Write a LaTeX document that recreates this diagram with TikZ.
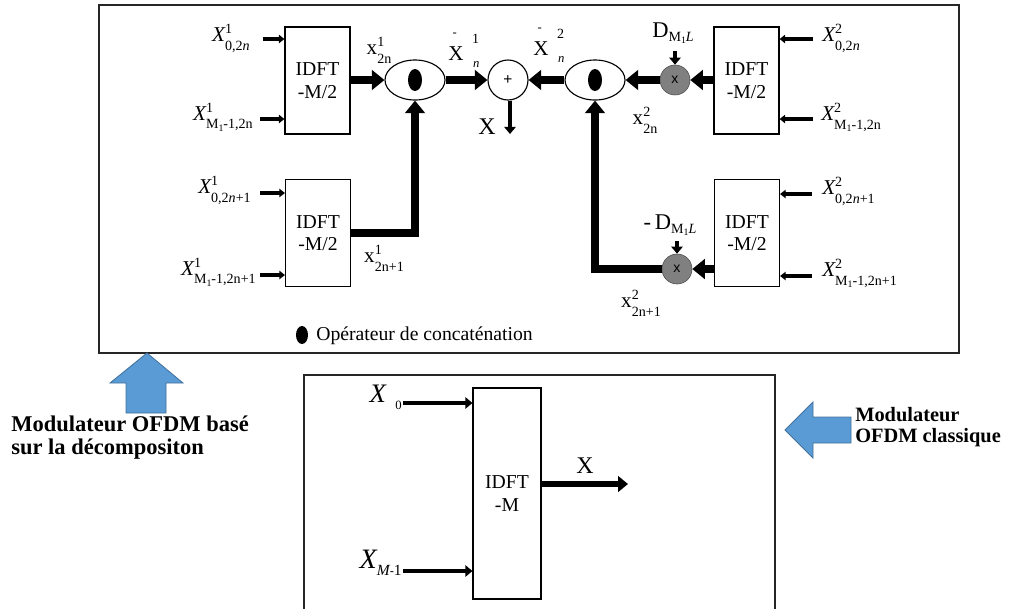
\documentclass[tikz,border=0pt]{standalone}
\usepackage{fontspec}
\setmainfont{Liberation Serif}
\newfontfamily\sansf{Liberation Sans}
\usetikzlibrary{arrows.meta,shapes.geometric}
\newcommand\SupSub[2]{\rlap{\raisebox{0.9ex}{\fontsize{10}{10}\selectfont #1}}\raisebox{-0.85ex}{\fontsize{10}{10}\selectfont #2}}
\newcommand\Mone{M\raisebox{-0.35ex}{\fontsize{7}{7}\selectfont 1}}
\newcommand\XbarLab[1]{\rlap{\raisebox{1.15em}{\hspace{0.2em}\fontsize{9}{9}\selectfont -}}X\rlap{\raisebox{0.8em}{\hspace{0.4em}\fontsize{10}{10}\selectfont #1}}\raisebox{-0.3em}{\hspace{0.45em}\fontsize{9}{9}\selectfont\itshape n}}
\newcommand\DLab{D\raisebox{-0.45ex}{\fontsize{10}{10}\selectfont M\raisebox{-0.3ex}{\fontsize{7}{7}\selectfont 1}\itshape L}}
\definecolor{blu}{HTML}{5B9BD5}
\definecolor{bluedge}{HTML}{41719C}
\begin{document}
\begin{tikzpicture}[x=0.025cm,y=-0.025cm,
  box/.style={draw,line width=0.8pt,minimum width=1.625cm,minimum height=2.675cm,align=center,font=\fontsize{14}{16}\selectfont,inner sep=0pt},
  thickarrow/.style={line width=5.5pt,-{Triangle[length=9pt,width=14pt]},line join=miter},
  thinarrow/.style={line width=2.2pt,-{Triangle[length=4pt,width=6pt]}},
  smallarrow/.style={line width=3pt,-{Triangle[length=5pt,width=8pt]}},
  lab/.style={font=\fontsize{15}{17}\selectfont,inner sep=0pt},
  conc/.style={draw,ellipse,line width=0.8pt,minimum width=1.5cm,minimum height=1cm,inner sep=0pt},
  dot/.style={fill=black,ellipse,minimum width=0.35cm,minimum height=0.55cm,inner sep=0pt},
  mult/.style={circle,draw=black!70,fill=black!50,minimum size=0.75cm,inner sep=0pt,font=\sansf\fontsize{10}{10}\selectfont},
  bold/.style={font=\bfseries\fontsize{16}{16}\selectfont,align=left,inner sep=0pt}
]
\useasboundingbox (0,0) rectangle (1029,608);
% outer boxes
\draw[line width=1pt,black!85] (99,5) rectangle (959,353);
\draw[line width=1pt,black!85] (304,610) -- (304,375) -- (775,375) -- (775,610);

% IDFT blocks
\node[box] (b1) at (317.5,80.5) {IDFT\\-M/2};
\node[box] (b2) at (318,233) {IDFT\\-M/2};
\node[box] (b3) at (746.5,80.5) {IDFT\\-M/2};
\node[box] (b4) at (747,233) {IDFT\\-M/2};

% concatenation operators
\node[conc] (e1) at (415,80) {};
\node[dot] at (e1.center) {};
\node[conc] (e2) at (595,80) {};
\node[dot] at (e2.center) {};
\node[circle,draw,line width=0.8pt,minimum size=1cm,inner sep=0pt,font=\sansf\fontsize{11}{11}\selectfont] (plus) at (508,80) {+};

% multipliers
\node[mult] (g1) at (675,80) {x};
\node[mult] (g2) at (677,269) {x};

% left inputs
\coordinate (i1a) at (263,39);
\coordinate (i1b) at (260,119);
\coordinate (i2a) at (260,193);
\coordinate (i2b) at (260,275);
\draw[thinarrow] (i1a) -- (i1a -| b1.west);
\draw[thinarrow] (i1b) -- (i1b -| b1.west);
\draw[thinarrow] (i2a) -- (i2a -| b2.west);
\draw[thinarrow] (i2b) -- (i2b -| b2.west);
\node[lab,anchor=east] (l1a) at (250,38) {\itshape X\SupSub{\upshape 1}{\upshape 0,2\itshape n}};
\node[lab,anchor=east] (l1b) at (253,117) {\itshape X\SupSub{\upshape 1}{\upshape\Mone-1,2n}};
\node[lab,anchor=east] (l2a) at (251,190) {\itshape X\SupSub{\upshape 1}{\upshape 0,2\itshape n\upshape+1}};
\node[lab,anchor=east] (l2b) at (256,272) {\itshape X\SupSub{\upshape 1}{\upshape\Mone-1,2n+1}};

% right inputs
\coordinate (i3a) at (813,39);
\coordinate (i3b) at (813,119);
\coordinate (i4a) at (812,194);
\coordinate (i4b) at (812,276);
\draw[thinarrow] (i3a) -- (i3a -| b3.east);
\draw[thinarrow] (i3b) -- (i3b -| b3.east);
\draw[thinarrow] (i4a) -- (i4a -| b4.east);
\draw[thinarrow] (i4b) -- (i4b -| b4.east);
\node[lab,anchor=west] (l3a) at (822,38) {\itshape X\SupSub{\upshape 2}{\upshape 0,2\itshape n}};
\node[lab,anchor=west] (l3b) at (821,117) {\itshape X\SupSub{\upshape 2}{\upshape\Mone-1,2n}};
\node[lab,anchor=west] (l4a) at (822,191) {\itshape X\SupSub{\upshape 2}{\upshape 0,2\itshape n\upshape+1}};
\node[lab,anchor=west] (l4b) at (822,273) {\itshape X\SupSub{\upshape 2}{\upshape\Mone-1,2n+1}};

% main connectors
\draw[thickarrow] (b1.east |- e1) -- (e1.west);
\draw[thickarrow] (e1.east) -- (plus.west);
\draw[thickarrow] (e2.west) -- (plus.east);
\draw[thickarrow] (g1.west) -- (e2.east);
\draw[thickarrow] (b3.west |- g1) -- (g1.east);
\draw[thickarrow] (b2.east) -| (e1.south);
\draw[thickarrow] (b4.west |- g2) -- (g2.east);
\draw[thickarrow] (g2.west) -| (e2.south);
\coordinate (xo) at (510,134);
\draw[smallarrow] (plus.south -| xo) -- (xo);

% D labels
\node[lab,font=\fontsize{16}{18}\selectfont] (d1) at (673,33) {\DLab};
\draw[smallarrow] (675,51) -- (g1.north);
\node[lab,font=\fontsize{16}{18}\selectfont] (d2) at (670,225) {-\,\DLab};
\draw[smallarrow] (677,241) -- (g2.north);

% signal labels
\node[lab] (x1) at (379,50) {x\SupSub{1}{2n}};
\node[lab] (x2) at (384,258) {x\SupSub{1}{2n+1}};
\node[lab] (x3) at (645,120) {x\SupSub{2}{2n}};
\node[lab] (x4) at (641,303) {x\SupSub{2}{2n+1}};
\node[lab] (xb1) at (464,50) {\XbarLab{1}};
\node[lab] (xb2) at (549,45) {\XbarLab{2}};
\node[lab,font=\fontsize{17}{17}\selectfont] (xl) at (487,127) {X};

% legend
\node[dot,minimum width=0.3cm,minimum height=0.45cm] (ld) at (302,335) {};
\node[lab,font=\fontsize{14}{16}\selectfont,anchor=west] (lt) at (316,336) {Opérateur de concaténation};

% classical modulator
\node[box,minimum width=1.7cm,minimum height=5.275cm] (bm) at (507,493.5) {IDFT\\-M};
\coordinate (c0) at (403,403);
\coordinate (c1) at (403,571);
\draw[smallarrow,line width=2.6pt] (c0) -- (c0 -| bm.west);
\draw[smallarrow,line width=2.6pt] (c1) -- (c1 -| bm.west);
\node[lab,anchor=east,font=\fontsize{19}{20}\selectfont] (x0) at (402,397) {\itshape X\raisebox{-0.6ex}{\hspace{0.35em}\upshape\fontsize{9}{9}\selectfont 0}};
\node[lab,anchor=east,font=\fontsize{20}{20}\selectfont] (xm) at (402,563) {\itshape X\raisebox{-0.5ex}{\fontsize{11}{11}\selectfont M\upshape{\sansf\fontsize{9}{9}\selectfont -}1}};
\coordinate (co) at (628,484);
\draw[line width=4pt,-{Triangle[length=7pt,width=11pt]}] (bm.east |- co) -- (co);
\node[lab,font=\fontsize{17}{17}\selectfont] (xo2) at (585,466) {X};

% blue arrows
\draw[draw=bluedge,fill=blu,line width=0.6pt] (147,353) -- (183,383) -- (166,383) -- (166,413) -- (126,413) -- (126,383) -- (110,383) -- cycle;
\draw[draw=bluedge,fill=blu,line width=0.6pt] (785,430) -- (813,402) -- (813,417) -- (851,417) -- (851,443) -- (813,443) -- (813,458) -- cycle;
\node[bold,anchor=north west] (t1) at (11,416) {Modulateur OFDM basé\\sur la décompositon};
\node[bold,font=\bfseries\fontsize{14.5}{15}\selectfont,anchor=north west] (t2) at (855,407) {Modulateur\\OFDM classique};
\end{tikzpicture}
\end{document}
